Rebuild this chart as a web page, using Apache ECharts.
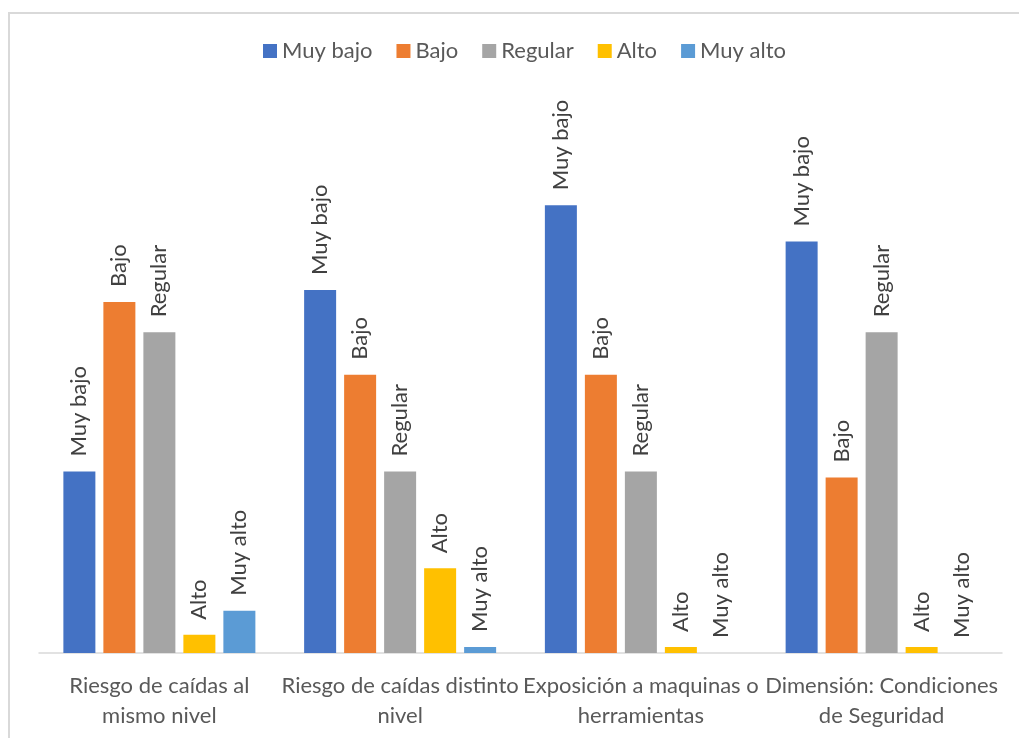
<!DOCTYPE html>
<html>
<head>
<meta charset="utf-8">
<script src="https://cdn.jsdelivr.net/npm/echarts@6/dist/echarts.min.js"></script>
<style>
  html, body { margin: 0; padding: 0; background: #ffffff; }
  #chart { width: 1019px; height: 738px; }
</style>
</head>
<body>
<div id="chart"></div>
<script>
// Risk dimensions (x categories), wrapped over two lines
const categories = [
  'Riesgo de caídas al\nmismo nivel',
  'Riesgo de caídas distinto\nnivel',
  'Exposición a maquinas o\nherramientas',
  'Dimensión: Condiciones\nde Seguridad'
];

// Rating levels, one bar series each
const levels = ['Muy bajo', 'Bajo', 'Regular', 'Alto', 'Muy alto'];
const colors = ['#4472C4', '#ED7D31', '#A5A5A5', '#FFC000', '#5B9BD5'];

// Responses per level, one value per category
const muyBajo = [30, 60, 74, 68];
const bajo    = [58, 46, 46, 29];
const regular = [53, 30, 30, 53];
const alto    = [3, 14, 1, 1];
const muyAlto = [7, 1, 0, 0];

const seriesValues = [muyBajo, bajo, regular, alto, muyAlto];

const FONT = 'Lato, "Open Sans", sans-serif';

const chart = echarts.init(document.getElementById('chart'), null, { renderer: 'canvas' });

chart.setOption({
  backgroundColor: '#ffffff',
  animation: false,
  color: colors,
  graphic: [{
    type: 'rect',
    shape: { x: 9, y: 13, width: 1040, height: 760 },
    style: { fill: 'none', stroke: '#d9d9d9', lineWidth: 2 },
    silent: true
  }],
  legend: {
    data: levels,
    left: 258,
    top: 35,
    itemWidth: 14,
    itemHeight: 14,
    itemGap: 24,
    icon: 'rect',
    textStyle: { fontFamily: FONT, fontSize: 22, color: '#595959', padding: [0, 0, 0, 0] }
  },
  grid: { left: 39, right: 17, top: 169, bottom: 85 },
  xAxis: {
    type: 'category',
    data: categories,
    axisLine: { lineStyle: { color: '#d9d9d9', width: 1.5 } },
    axisTick: { show: false },
    axisLabel: {
      interval: 0,
      margin: 18,
      fontFamily: FONT,
      fontSize: 22,
      lineHeight: 30,
      color: '#595959',
      align: 'center'
    }
  },
  yAxis: {
    type: 'value',
    min: 0,
    max: 80,
    show: false,
    splitLine: { show: false }
  },
  series: levels.map((name, i) => ({
    name: name,
    type: 'bar',
    data: seriesValues[i],
    barWidth: 32,
    barGap: '25%',
    itemStyle: { color: colors[i] },
    label: {
      show: true,
      position: 'top',
      rotate: 90,
      align: 'left',
      verticalAlign: 'middle',
      distance: 15,
      formatter: () => name,
      fontFamily: FONT,
      fontSize: 22,
      color: '#404040'
    }
  }))
});
</script>
</body>
</html>
